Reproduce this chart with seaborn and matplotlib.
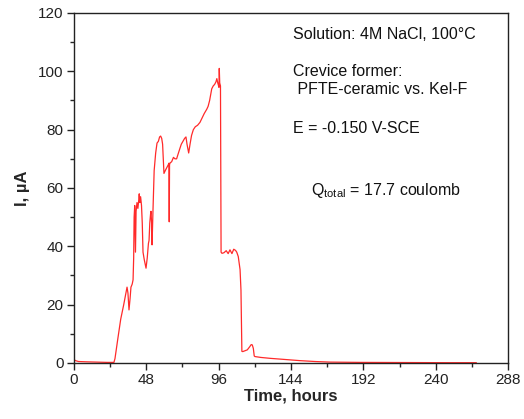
import matplotlib
matplotlib.use("Agg")
import matplotlib.pyplot as plt
import seaborn as sns
import pandas as pd
from matplotlib.ticker import MultipleLocator

sns.set_style("ticks")
plt.rcParams['font.family'] = ['Liberation Sans', 'DejaVu Sans']
plt.rcParams['mathtext.fontset'] = 'custom'
plt.rcParams['mathtext.rm'] = 'Liberation Sans'
plt.rcParams['mathtext.it'] = 'Liberation Sans'

time_hours = [0, 1, 3, 8, 15, 22, 26.5, 27.2, 29, 31, 33, 35.2, 35.8, 36.5, 37.2, 37.8,
              38.6, 39.2, 39.6, 39.9, 40.3, 40.8, 41.2, 41.8, 42.4, 43.0, 43.3, 43.7, 44.2,
              44.8, 45.3, 45.8, 46.6, 47.8, 48.6, 49.4, 49.8, 50.3, 50.8, 51.1, 51.5, 51.8,
              52.4, 53.2, 54.2, 55.1, 56.0, 56.8, 57.5, 58.2, 58.8, 59.7, 60.6, 61.6, 62.6,
              63.0, 63.2, 63.4, 63.8, 64.8, 66.0, 67.0, 68.1, 69.0, 70.3, 71.2, 72.3, 73.4,
              74.3, 75.0, 76.1, 77.0, 78.0, 79.2, 80.5, 82.0, 83.6, 85.0, 86.4, 88.1, 89.0,
              90.0, 91.4, 92.4, 93.3, 94.2, 94.8, 95.4, 95.8, 96.2, 96.4, 96.7, 97.2, 97.6,
              98.2, 99.5, 101.0, 102.3, 103.5, 104.8, 106.0, 107.2, 108.0, 109.0, 110.2,
              110.8, 111.4, 112.0, 113.5, 115.0, 116.5, 117.6, 118.3, 119.0, 119.6, 120.1,
              124.0, 130.0, 140.0, 150.0, 160.0, 170.0, 190.0, 220.0, 250.0, 267.0]
current_uA = [1.2, 0.8, 0.5, 0.4, 0.3, 0.2, 0.2, 1.5, 8.0, 15.0, 20.0, 26.0, 24.0, 18.2, 22.0, 26.0,
              27.0, 28.5, 36.0, 50.0, 54.0, 38.0, 52.0, 55.0, 53.0, 56.0, 58.0, 55.0, 57.0,
              54.0, 48.0, 38.0, 35.5, 32.5, 36.0, 41.0, 42.0, 48.0, 51.0, 52.0, 48.0, 40.5,
              52.0, 66.0, 72.0, 75.4, 76.0, 77.5, 77.8, 77.0, 75.0, 65.0, 66.0, 67.0, 68.0,
              68.5, 48.4, 68.0, 68.6, 69.0, 70.5, 70.0, 70.0, 71.5, 73.6, 75.0, 76.0, 77.0,
              77.5, 75.0, 72.0, 75.0, 78.0, 80.0, 81.0, 81.5, 82.5, 84.0, 85.5, 87.0, 88.0,
              90.0, 94.0, 95.0, 95.5, 96.4, 97.5, 96.0, 95.3, 94.5, 101.0, 96.0, 95.0, 38.0,
              37.6, 37.8, 38.5, 37.5, 38.8, 37.5, 39.0, 38.6, 38.0, 36.5, 32.0,
              25.0, 4.0, 3.9, 4.2, 4.5, 5.5, 6.3, 6.2, 5.0, 2.4, 2.2,
              1.9, 1.6, 1.2, 0.8, 0.5, 0.3, 0.2, 0.15, 0.1, 0.1]

df = pd.DataFrame({"time": time_hours, "current": current_uA})

fig = plt.figure(figsize=(5.24, 4.19), dpi=100)
ax = fig.add_axes([0.1412, 0.1337, 0.9695 - 0.1412, 0.969 - 0.1337])
sns.lineplot(data=df, x="time", y="current", ax=ax, color="#ff2a2a", linewidth=0.9,
             estimator=None, sort=False)

ax.set_xlim(0, 288)
ax.set_ylim(0, 120)
ax.xaxis.set_major_locator(MultipleLocator(48))
ax.xaxis.set_minor_locator(MultipleLocator(24))
ax.yaxis.set_major_locator(MultipleLocator(20))
ax.yaxis.set_minor_locator(MultipleLocator(10))
ax.tick_params(which="major", direction="out", length=5, width=1, labelsize=11,
               colors="#222222", top=False, right=False, pad=2.5)
ax.tick_params(which="minor", direction="out", length=3, width=1, top=False, right=False)
for sp in ax.spines.values():
    sp.set_visible(True)
    sp.set_linewidth(1.0)
    sp.set_color("#222222")

ax.set_xlabel("Time, hours", fontsize=12, fontweight="bold", labelpad=1)
ax.set_ylabel("I, µA", fontsize=12, fontweight="bold", labelpad=6)

tk = dict(transform=ax.transData, fontsize=11.5, color="#111111", va="center", ha="left")
ax.text(145.5, 112.5, "Solution: 4M NaCl, 100°C", **tk)
ax.text(145.5, 100.0, "Crevice former:", **tk)
ax.text(145.5, 93.8, " PFTE-ceramic vs. Kel-F", **tk)
ax.text(145.5, 80.5, "E = -0.150 V-SCE", **tk)
ax.text(157.5, 59.0, "Q$_{\\mathrm{total}}$ = 17.7 coulomb", **tk)

fig.savefig("out.png", dpi=100)
